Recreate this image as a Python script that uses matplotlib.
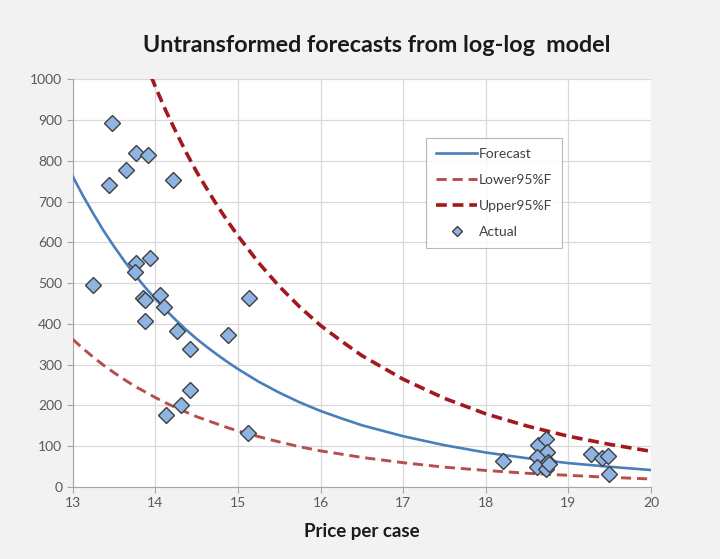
import numpy as np
import matplotlib
matplotlib.use('Agg')
import matplotlib.pyplot as plt

# data
price = [13.25, 13.47, 13.44, 13.65, 13.77, 13.91, 14.22, 13.77, 13.93, 13.75,
         13.85, 13.88, 14.06, 14.10, 13.87, 14.26, 14.42, 14.88, 15.14, 14.42,
         14.31, 14.13, 15.12,
         18.21, 18.63, 18.73, 18.74, 18.62, 18.75, 18.62, 18.73, 18.77,
         19.28, 19.41, 19.48, 19.49]
actual = [496, 893, 741, 778, 819, 815, 754, 549, 561, 526,
          463, 458, 471, 441, 407, 383, 337, 373, 463, 238,
          201, 176, 131,
          64, 102, 116, 86, 72, 61, 48, 43, 55,
          80, 70, 75, 31]

xgrid = [13, 13.125, 13.25, 13.375, 13.5, 13.625, 13.75, 13.875, 14, 14.125,
         14.25, 14.375, 14.5, 14.625, 14.75, 14.875, 15, 15.25, 15.5, 15.75,
         16, 16.25, 16.5, 17, 17.5, 18, 18.5, 19, 19.5, 20]
forecast = [762, 714, 670, 628, 590, 554, 521, 490, 461, 434,
            409, 385, 363, 343, 324, 306, 289, 258, 231, 207,
            186, 168, 151, 124, 102, 84, 70, 58, 49, 41]
lower95 = [362, 339, 318, 298, 280, 263, 247, 233, 219, 206,
           194, 183, 172, 163, 154, 145, 137, 123, 110, 98,
           88, 80, 72, 59, 48, 40, 33, 28, 23, 19]
upper95 = [1623, 1521, 1427, 1338, 1257, 1180, 1110, 1044, 982, 924,
           871, 820, 773, 731, 690, 652, 616, 550, 492, 441,
           396, 358, 322, 264, 217, 179, 149, 124, 104, 87]

plt.rcParams['font.family'] = ['Lato', 'DejaVu Sans']

fig = plt.figure(figsize=(7.2, 5.59), dpi=100, facecolor='#F2F2F2')
ax = fig.add_axes([0.101, 0.1293, 0.803, 0.7287])
ax.set_facecolor('white')

ax.plot(xgrid, forecast, color='#4A7EBB', lw=1.9, label='Forecast', zorder=3)
ax.plot(xgrid, lower95, color='#B84E4B', lw=2.1, ls=(0, (3.5, 2)), label='Lower95%F', zorder=3)
ax.plot(xgrid, upper95, color='#A3181E', lw=2.6, ls=(0, (3, 1.6)), label='Upper95%F', zorder=3)
ax.plot(price, actual, ls='none', marker='D', ms=8, mfc='#8EB4E3', mec='#3F3F3F',
        mew=1.0, label='Actual', zorder=4)

ax.set_xlim(13, 20)
ax.set_ylim(0, 1000)
ax.set_xticks(np.arange(13, 21, 1))
ax.set_yticks(np.arange(0, 1001, 100))
ax.grid(True, color='#D9D9D9', lw=0.9)
ax.set_axisbelow(True)
for s in ['top', 'right']:
    ax.spines[s].set_visible(False)
for s in ['left', 'bottom']:
    ax.spines[s].set_color('#A6A6A6')
ax.tick_params(colors='#A6A6A6', labelcolor='#595959', labelsize=10, length=4)

ax.set_xlabel('Price per case', fontsize=13.5, fontweight='bold', color='#1A1A1A', labelpad=10)
fig.text(0.523, 0.919, 'Untransformed forecasts from log-log  model', ha='center', va='center',
         fontsize=16.8, fontweight='bold', color='#1A1A1A')

leg = ax.legend(loc='upper left', bbox_to_anchor=(0.611, 0.855), frameon=True, fancybox=False,
                edgecolor='#A6A6A6', fontsize=10, handlelength=3.0, handletextpad=0.1,
                labelspacing=1.0, borderpad=0.7, borderaxespad=0, markerscale=0.65)
leg.get_frame().set_linewidth(0.8)
for t in leg.get_texts():
    t.set_color('#404040')

fig.savefig('out.png', dpi=100, facecolor=fig.get_facecolor())
